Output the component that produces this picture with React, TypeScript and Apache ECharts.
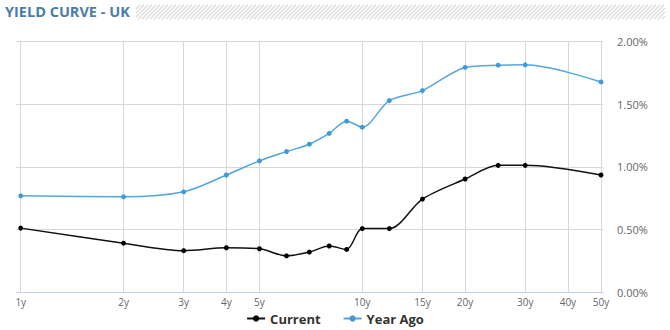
import React, { useEffect, useRef } from "react";
import * as echarts from "echarts";

const maturities = [1, 2, 3, 4, 5, 6, 7, 8, 9, 10, 12, 15, 20, 25, 30, 50];
const current = [0.51, 0.39, 0.33, 0.353, 0.345, 0.289, 0.319, 0.367, 0.34, 0.506, 0.506, 0.742, 0.902, 1.011, 1.011, 0.934];
const yearAgo = [0.768, 0.76, 0.8, 0.934, 1.047, 1.121, 1.18, 1.266, 1.364, 1.316, 1.528, 1.608, 1.793, 1.811, 1.814, 1.677];
const tickYears = [1, 2, 3, 4, 5, 10, 15, 20, 30, 40, 50];

export default function App() {
  const ref = useRef<HTMLDivElement>(null);
  useEffect(() => {
    if (!ref.current) return;
    const chart = echarts.init(ref.current, null, { renderer: "svg" });
    const hatch: any[] = [];
    for (let x = 122; x < 665; x += 4) {
      let x1 = x, y1 = 19, x2 = x + 14, y2 = 5;
      if (x1 < 136) { y1 = 19 - (136 - x1); x1 = 136; }
      if (x2 > 665) { y2 = 5 + (x2 - 665); x2 = 665; }
      if (y1 <= y2) continue;
      hatch.push({ type: "line", shape: { x1, y1, x2, y2 }, style: { stroke: "#dcdcdc", lineWidth: 1.3 }, silent: true });
    }
    const toPts = (vals: number[]) => maturities.map((m, i) => [Math.log(m), vals[i]]);
    chart.setOption({
      animation: false,
      textStyle: { fontFamily: "'Open Sans', 'DejaVu Sans', sans-serif" },
      grid: { left: 16, right: 67, top: 41.5, bottom: 38, containLabel: false },
      graphic: [
        {
          type: "text",
          left: 5,
          top: 4,
          style: { text: "YIELD CURVE - UK", fill: "#4c7ca8", font: "bold 14.5px 'Open Sans', sans-serif" },
        },
        { type: "group", children: hatch },
      ],
      legend: {
        bottom: 0,
        left: "center",
        itemWidth: 18,
        itemHeight: 8,
        itemGap: 22,
        textStyle: { fontSize: 13, fontWeight: "bold", color: "#333" },
        data: ["Current", "Year Ago"],
      },
      xAxis: {
        type: "value",
        min: Math.log(1) - 0.032,
        max: Math.log(50) + 0.0135,
        axisLine: { show: true, lineStyle: { color: "#c0d0e0", width: 1 } },
        axisTick: { show: false, customValues: tickYears.map((t) => Math.log(t)) },
        axisLabel: {
          customValues: tickYears.map((t) => Math.log(t)),
          formatter: (v: number) => Math.round(Math.exp(v)) + "y",
          color: "#666",
          fontSize: 10,
          margin: 5,
        },
        splitLine: { show: true, lineStyle: { color: "#d8d8d8", width: 1 } },
      },
      yAxis: {
        type: "value",
        position: "right",
        min: 0,
        max: 2,
        interval: 0.5,
        axisLine: { show: false },
        axisTick: { show: true, length: 4, lineStyle: { color: "#d8d8d8" } },
        axisLabel: {
          formatter: (v: number) => v.toFixed(2) + "%",
          color: "#666",
          fontSize: 11,
          margin: 14,
        },
        splitLine: { show: true, lineStyle: { color: "#d8d8d8", width: 1 } },
      },
      series: [
        {
          name: "Current",
          type: "line",
          data: toPts(current),
          smooth: 0.3,
          symbol: "circle",
          symbolSize: 5,
          itemStyle: { color: "#000" },
          lineStyle: { color: "#111", width: 1.5 },
        },
        {
          name: "Year Ago",
          type: "line",
          data: toPts(yearAgo),
          smooth: 0.3,
          symbol: "circle",
          symbolSize: 5,
          itemStyle: { color: "#3f9ad8" },
          lineStyle: { color: "#52a6dc", width: 1.5 },
        },
      ],
    });
    return () => chart.dispose();
  }, []);
  return <div ref={ref} style={{ width: 670, height: 330, position: "absolute", left: 0, top: 0, background: "#fff" }} />;
}
